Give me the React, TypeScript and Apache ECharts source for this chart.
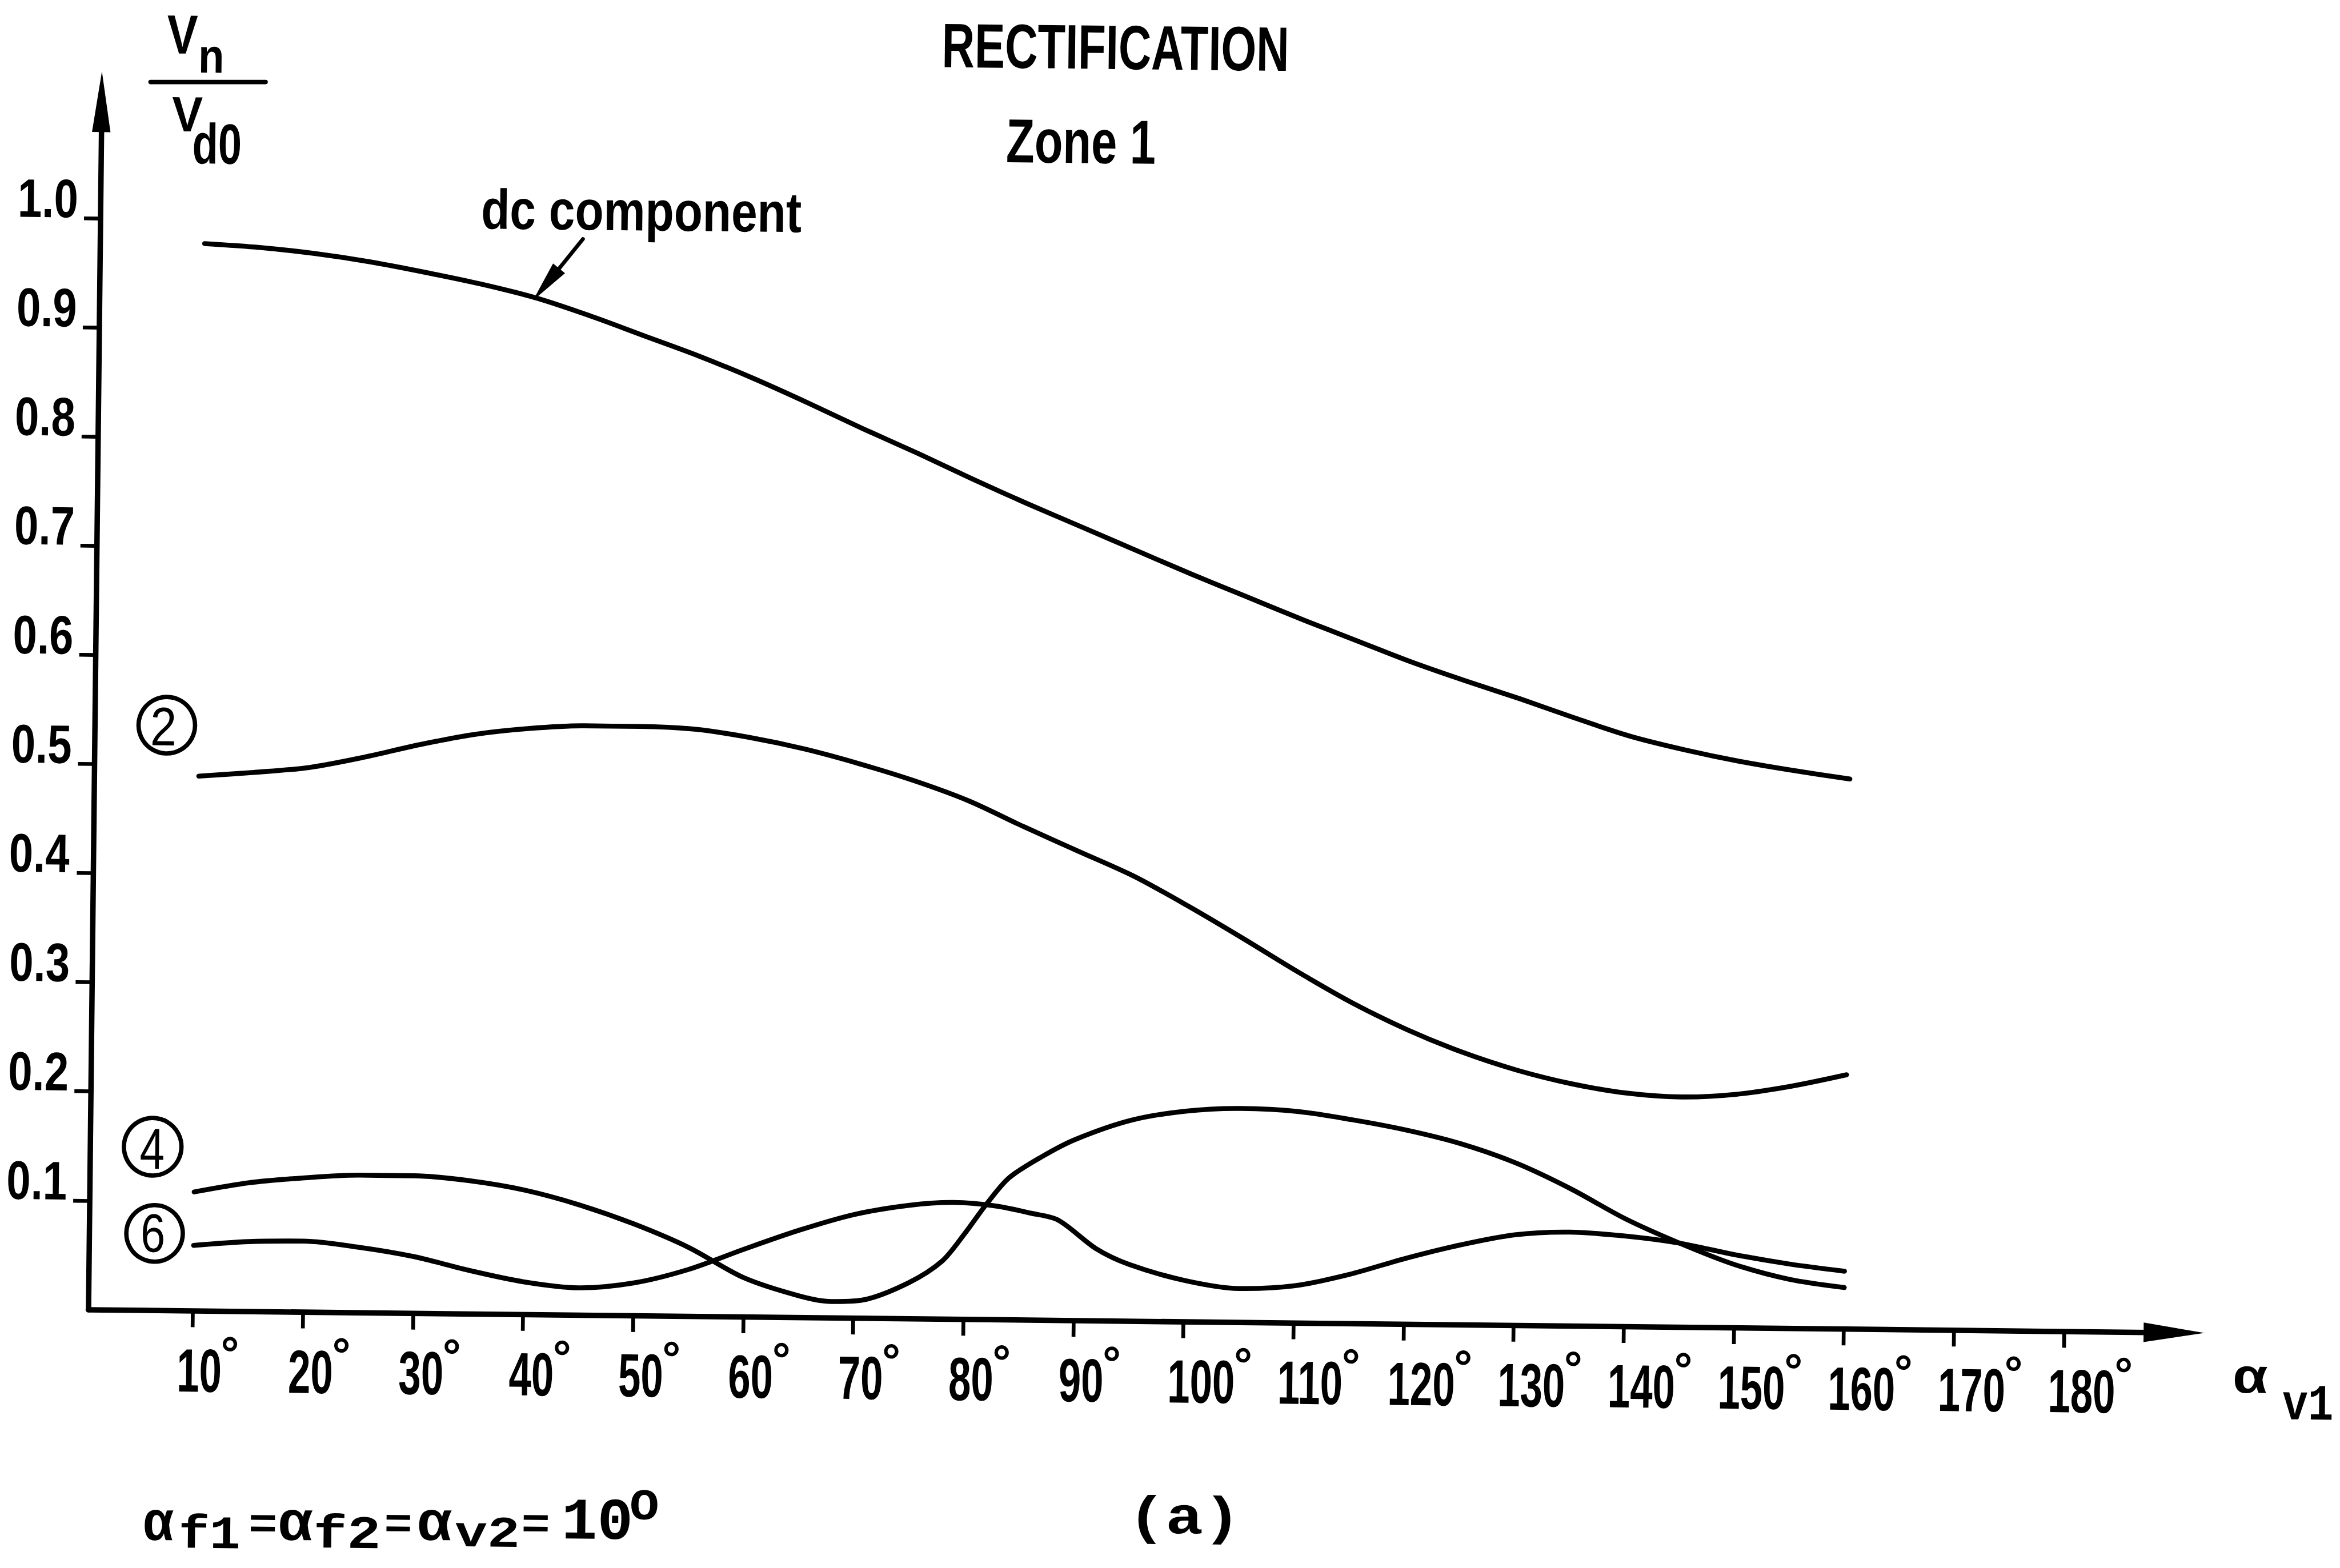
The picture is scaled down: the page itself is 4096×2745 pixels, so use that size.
import React, { useEffect, useRef } from 'react';
import * as echarts from 'echarts';

// ---------- layout constants (reference pixels, scaled by K) ----------
const K = 0.951;
const TILT_DEG = 0.63;
const ORIGIN_X = 164; // axis origin in reference px
const ORIGIN_Y = 2411;
const X_AT_10 = 191; // px from origin to the 10° tick
const PX_PER_DEG = 20.26;
const PX_PER_UNIT = 2009;
const X_MIN = 0.5;
const X_MAX = 190;
const Y_MIN = 0;
const Y_MAX = 1.107;

// ---------- data ----------
const xTickValues = [10, 20, 30, 40, 50, 60, 70, 80, 90, 100, 110, 120, 130, 140, 150, 160, 170, 180];
const yTickValues = [0.1, 0.2, 0.3, 0.4, 0.5, 0.6, 0.7, 0.8, 0.9, 1.0];

const dcComponent = [
  [10, 0.978], [15, 0.975], [20, 0.970], [25, 0.963], [30, 0.954], [35, 0.944], [40, 0.932],
  [45, 0.916], [50, 0.898], [55, 0.880], [60, 0.860], [65, 0.838], [70, 0.815], [75, 0.793],
  [80, 0.770], [85, 0.748], [90, 0.727], [95, 0.706], [100, 0.685], [105, 0.665], [110, 0.645],
  [115, 0.626], [120, 0.607], [125, 0.590], [130, 0.574], [135, 0.557], [140, 0.541],
  [145, 0.529], [150, 0.519], [155, 0.511], [160, 0.504],
];

const harmonic2 = [
  [10, 0.490], [15, 0.494], [20, 0.499], [25, 0.509], [30, 0.521], [35, 0.531], [40, 0.537],
  [45, 0.540], [50, 0.540], [55, 0.538], [60, 0.531], [65, 0.521], [70, 0.508], [75, 0.493],
  [80, 0.475], [85, 0.452], [90, 0.430], [95, 0.408], [100, 0.381], [105, 0.352], [110, 0.322],
  [115, 0.294], [120, 0.270], [125, 0.250], [130, 0.234], [135, 0.222], [140, 0.214],
  [145, 0.211], [150, 0.214], [155, 0.222], [160, 0.233],
];

const harmonic4 = [
  [10, 0.109], [15, 0.118], [20, 0.123], [25, 0.126], [30, 0.126], [35, 0.122], [40, 0.114],
  [45, 0.101], [50, 0.084], [55, 0.063], [60, 0.036], [65, 0.020], [68, 0.015], [71, 0.017],
  [75, 0.033], [78, 0.053], [80, 0.078], [82, 0.106], [84, 0.130], [87, 0.150], [90, 0.166],
  [95, 0.184], [100, 0.193], [105, 0.196], [110, 0.194], [115, 0.187], [120, 0.178],
  [125, 0.166], [130, 0.149], [135, 0.126], [140, 0.099], [145, 0.077], [150, 0.058],
  [155, 0.045], [160, 0.038],
];

const harmonic6 = [
  [10, 0.060], [15, 0.064], [20, 0.065], [25, 0.060], [30, 0.052], [35, 0.040], [40, 0.030],
  [45, 0.025], [50, 0.030], [55, 0.043], [60, 0.062], [65, 0.080], [70, 0.095], [75, 0.104],
  [79, 0.107], [83, 0.104], [86, 0.098], [88.5, 0.092], [92, 0.066], [95, 0.052], [100, 0.038],
  [105, 0.031], [110, 0.034], [115, 0.045], [120, 0.060], [125, 0.073], [130, 0.083],
  [135, 0.086], [140, 0.083], [145, 0.077], [150, 0.067], [155, 0.059], [160, 0.053],
];

const titleText = 'RECTIFICATION';
const zoneText = 'Zone 1';
const dcLabelText = 'dc component';
const panelText = '(a)';
const circledLabels = ['2', '4', '6'];
const degreeMark = '°';

const SANS = 'Liberation Sans';
const MONO = 'Liberation Mono';

// ---------- helpers ----------
const TH = (TILT_DEG * Math.PI) / 180;
const SIN = Math.sin(TH);
const COS = Math.cos(TH);

// map a point of the (tilted) reference picture into the untilted chart frame
function P(X: number, Y: number): [number, number] {
  const dx = X - ORIGIN_X;
  const dy = Y - ORIGIN_Y;
  const xp = dx * COS + dy * SIN;
  const yp = -dx * SIN + dy * COS;
  return [(ORIGIN_X + xp) * K, (ORIGIN_Y + yp) * K];
}

function degToRef(d: number) {
  return ORIGIN_X + X_AT_10 + (d - 10) * PX_PER_DEG;
}
function valToRef(v: number) {
  return ORIGIN_Y - v * PX_PER_UNIT;
}

let measureCtx: CanvasRenderingContext2D | null = null;
function ink(text: string, family: string, weight: string) {
  if (!measureCtx) measureCtx = document.createElement('canvas').getContext('2d') as CanvasRenderingContext2D;
  measureCtx.font = `${weight} 200px ${family}`;
  const m: any = measureCtx.measureText(text);
  return {
    left: -m.actualBoundingBoxLeft,
    right: m.actualBoundingBoxRight,
    asc: m.actualBoundingBoxAscent,
    desc: m.actualBoundingBoxDescent,
    fa: m.fontBoundingBoxAscent ?? 181,
    fd: m.fontBoundingBoxDescent ?? 42,
  };
}

// text element whose ink box is anchored (left / center / right) at ax and vertically centred at cy
function textEl(
  text: string, family: string, weight: string, fontSize: number, sx: number,
  ax: number, mode: 'left' | 'center' | 'right', cy: number
): any {
  const m = ink(text, family, weight);
  const f = fontSize / 200;
  const l = m.left * f;
  const r = m.right * f;
  const refX = mode === 'left' ? l : mode === 'right' ? r : (l + r) / 2;
  const inkUp = ((m.asc - m.desc) / 2) * f;
  const centralUp = ((m.fa - m.fd) / 2) * f;
  return {
    type: 'text',
    silent: true,
    x: ax - refX * sx,
    y: cy - centralUp + inkUp,
    scaleX: sx,
    style: {
      text, x: 0, y: 0, fill: '#000', fontSize, fontFamily: family, fontWeight: weight,
      align: 'left', verticalAlign: 'middle', textAlign: 'left', textVerticalAlign: 'middle',
    },
  };
}

// fit a text to an ink box measured on the reference (centre, width, height)
function fitText(text: string, rcx: number, rcy: number, rw: number, rh: number, family: string, weight = 'bold'): any {
  const m = ink(text, family, weight);
  const inkH = (m.asc + m.desc) / 200;
  const inkW = (m.right - m.left) / 200;
  const fontSize = (rh * K) / inkH;
  const sx = (rw * K) / (inkW * fontSize);
  const [cx, cy] = P(rcx, rcy);
  return textEl(text, family, weight, fontSize, sx, cx, 'center', cy);
}

function lineEl(a: [number, number], b: [number, number], w: number): any {
  const p1 = P(a[0], a[1]);
  const p2 = P(b[0], b[1]);
  return {
    type: 'line', silent: true,
    shape: { x1: p1[0], y1: p1[1], x2: p2[0], y2: p2[1] },
    style: { stroke: '#000', lineWidth: w * K, lineCap: 'round' },
  };
}

function circleEl(cx: number, cy: number, r: number): any {
  const c = P(cx, cy);
  return {
    type: 'circle', silent: true,
    shape: { cx: c[0], cy: c[1], r: r * K },
    style: { fill: 'none', stroke: '#000', lineWidth: 8 * K },
  };
}

function annotationGraphics(): any[] {
  const g: any[] = [];
  // titles
  g.push(fitText(titleText, 2053, 87, 628, 82, SANS));
  g.push(fitText(zoneText, 1989.5, 261, 271, 80, SANS));
  // dc component label + pointer
  g.push(fitText(dcLabelText, 1182, 397.5, 586, 97, SANS));
  g.push(lineEl([1073, 440], [1027, 497], 7));
  const tip = P(981, 553);
  const b1 = P(1040, 503);
  const b2 = P(1018, 485);
  g.push({ type: 'polygon', silent: true, shape: { points: [tip, b1, b2] }, style: { fill: '#000' } });
  // y-axis name Vn / Vd0
  g.push(fitText('V', 336, 64, 56, 70, SANS));
  g.push(fitText('n', 389, 110, 38, 48, SANS));
  g.push(lineEl([277, 151], [489, 151], 8));
  g.push(fitText('V', 345, 210.5, 56, 63, SANS));
  g.push(fitText('d0', 399.5, 264.5, 85, 77, SANS));
  // circled harmonic numbers
  g.push(circleEl(307, 1335, 52));
  g.push(fitText(circledLabels[0], 301, 1337, 40, 70, SANS, 'normal'));
  g.push(circleEl(281, 2111, 53));
  g.push(fitText(circledLabels[1], 280, 2115, 42, 74, SANS, 'normal'));
  g.push(circleEl(284.5, 2270.5, 52));
  g.push(fitText(circledLabels[2], 282, 2269.5, 38, 71, SANS, 'normal'));
  // x-axis name alpha_v1
  g.push(fitText('α', 4143, 2540, 60, 50, MONO));
  g.push(fitText('v1', 4247, 2582, 90, 62, MONO));
  // bottom formula (typewriter)
  const W = 'bold';
  g.push(fitText('α', 292.5, 2807.5, 53, 57, MONO, W));
  g.push(fitText('f1', 386.5, 2818, 105, 64, MONO, W));
  g.push(fitText('=', 484, 2804, 45, 30, MONO, W));
  g.push(fitText('α', 545, 2807.5, 60, 57, MONO, W));
  g.push(fitText('f2', 639, 2818, 113, 64, MONO, W));
  g.push(fitText('=', 733, 2804, 44, 30, MONO, W));
  g.push(fitText('α', 801, 2807.5, 60, 57, MONO, W));
  g.push(fitText('v2', 895, 2820, 113, 54, MONO, W));
  g.push(fitText('=', 986, 2804, 45, 30, MONO, W));
  g.push(fitText('10', 1100, 2797, 118, 74, MONO, W));
  g.push(fitText('O', 1186, 2770.5, 48, 55, MONO, W));
  g.push(fitText(panelText, 2180, 2797.5, 170, 91, MONO, W));
  return g;
}

// tick labels, placed at the pixel positions the axes give for the tick values
function tickLabelGraphics(chart: any): any[] {
  const g: any[] = [];
  const d0 = ink('0', SANS, 'bold');
  const digitInkRatio = (d0.asc + d0.desc) / 200;
  // x labels: narrow hand lettering, ink left edge 24px left of the tick
  const xFont = (80 * K) / digitInkRatio;
  const xSx = 0.66;
  const degInk = ink(degreeMark, SANS, 'bold');
  const degFont = (27 * K) / ((degInk.asc + degInk.desc) / 200);
  const degSx = (27 * K) / (((degInk.right - degInk.left) / 200) * degFont);
  for (const d of xTickValues) {
    const [px, py] = chart.convertToPixel({ xAxisIndex: 0, yAxisIndex: 0 }, [d, 0]);
    const txt = String(d);
    const left = px - 24 * K;
    const cy = py + 110 * K;
    g.push(textEl(txt, SANS, 'bold', xFont, xSx, left, 'left', cy));
    const m = ink(txt, SANS, 'bold');
    const inkW = ((m.right - m.left) / 200) * xFont * xSx;
    g.push(textEl(degreeMark, SANS, 'bold', degFont, degSx, left + inkW + 4 * K, 'left', cy - 50 * K));
  }
  // y labels
  const yFont = (71 * K) / digitInkRatio;
  const ySx = 0.8;
  for (const v of yTickValues) {
    const [px, py] = chart.convertToPixel({ xAxisIndex: 0, yAxisIndex: 0 }, [X_MIN, v]);
    g.push(textEl(v.toFixed(1), SANS, 'bold', yFont, ySx, px - 44 * K, 'right', py - 36 * K));
  }
  return g;
}

function lineSeries(name: string, data: number[][]): any {
  return {
    name,
    type: 'line',
    data,
    showSymbol: false,
    symbol: 'none',
    smooth: 0.3,
    clip: false,
    lineStyle: { color: '#000', width: 9 * K, cap: 'round', join: 'round' },
    silent: true,
  };
}

function buildOption(): any {
  const gridLeft = degToRef(X_MIN) * K;
  const gridRight = degToRef(X_MAX) * K;
  const gridTop = valToRef(Y_MAX) * K;
  const gridBottom = valToRef(Y_MIN) * K;
  const axisLineStyle = { color: '#000', width: 10 * K };
  const tickStyle = { color: '#000', width: 7 * K };
  return {
    animation: false,
    backgroundColor: '#fff',
    grid: {
      left: gridLeft,
      top: gridTop,
      width: gridRight - gridLeft,
      height: gridBottom - gridTop,
      containLabel: false,
      outerBoundsMode: 'none',
    },
    xAxis: {
      type: 'value',
      min: X_MIN,
      max: X_MAX,
      axisLine: {
        show: true,
        onZero: false,
        symbol: ['none', 'triangle'],
        symbolSize: [36 * K, 112 * K],
        lineStyle: axisLineStyle,
      },
      axisTick: { show: true, inside: false, length: 30 * K, lineStyle: tickStyle, customValues: xTickValues },
      axisLabel: { show: false, customValues: xTickValues },
      splitLine: { show: false },
    },
    yAxis: {
      type: 'value',
      min: Y_MIN,
      max: Y_MAX,
      axisLine: {
        show: true,
        onZero: false,
        symbol: ['none', 'triangle'],
        symbolSize: [34 * K, 112 * K],
        lineStyle: axisLineStyle,
      },
      axisTick: { show: true, inside: false, length: 30 * K, lineStyle: tickStyle, customValues: yTickValues },
      axisLabel: { show: false, customValues: yTickValues },
      splitLine: { show: false },
    },
    series: [
      lineSeries('dc component', dcComponent),
      lineSeries('2', harmonic2),
      lineSeries('4', harmonic4),
      lineSeries('6', harmonic6),
    ],
  };
}

export default function App() {
  const ref = useRef<HTMLDivElement>(null);
  useEffect(() => {
    if (!ref.current) return;
    const chart = echarts.init(ref.current, null, { renderer: 'svg' });
    chart.setOption(buildOption());
    chart.setOption({
      graphic: { elements: [...annotationGraphics(), ...tickLabelGraphics(chart)] },
    });
    return () => {
      chart.dispose();
    };
  }, []);
  return (
    <div
      ref={ref}
      style={{
        position: 'absolute',
        left: 0,
        top: 0,
        width: 4096,
        height: 2745,
        background: '#fff',
        transform: `rotate(${TILT_DEG}deg)`,
        transformOrigin: `${ORIGIN_X * K}px ${ORIGIN_Y * K}px`,
      }}
    />
  );
}
